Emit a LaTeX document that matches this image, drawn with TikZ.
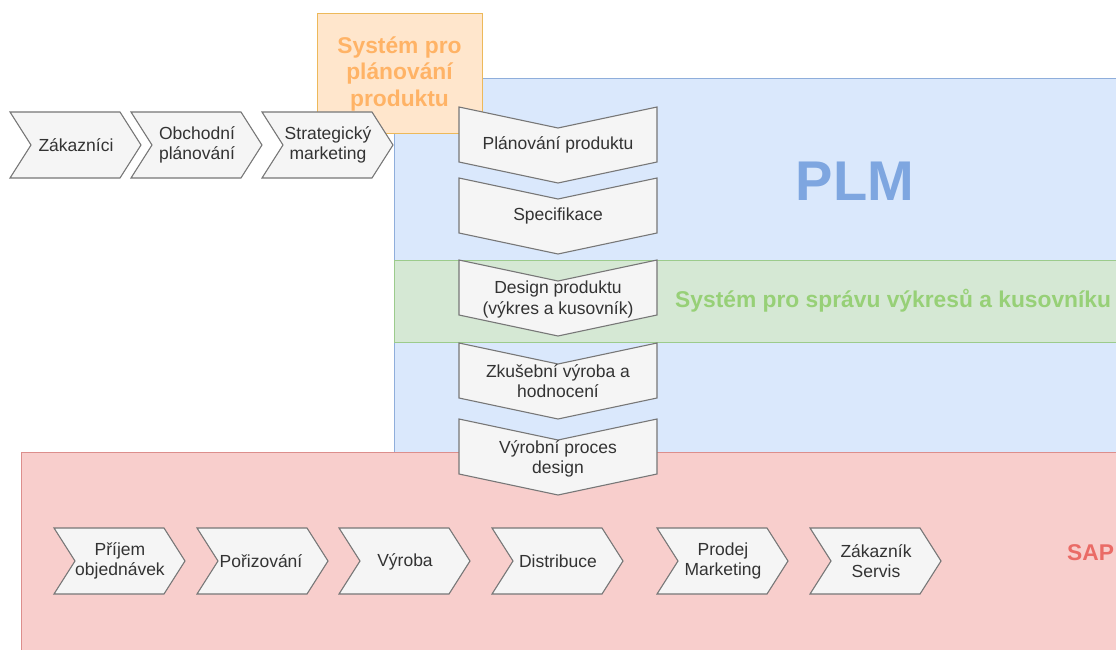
\documentclass[tikz,border=0pt]{standalone}
\usepackage{fontspec}
\setmainfont{Liberation Sans}
\usepackage{xcolor}
\definecolor{chevfill}{HTML}{F5F5F5}
\definecolor{chevline}{HTML}{777777}
\definecolor{chevtext}{HTML}{333333}
\definecolor{plmfill}{HTML}{DAE8FC}
\definecolor{plmline}{HTML}{8FAEDB}
\definecolor{plmtext}{HTML}{7EA6E0}
\definecolor{pdmfill}{HTML}{D5E8D4}
\definecolor{pdmline}{HTML}{9CCB8C}
\definecolor{pdmtext}{HTML}{97D077}
\definecolor{planfill}{HTML}{FFE6CC}
\definecolor{planline}{HTML}{EDB95A}
\definecolor{plantext}{HTML}{FFB366}
\definecolor{sapfill}{HTML}{F8CECC}
\definecolor{sapline}{HTML}{DC8E8C}
\definecolor{saptext}{HTML}{EA6B66}

\begin{document}
\begin{tikzpicture}[x=1pt, y=-1pt,
    chev/.style={draw=chevline, fill=chevfill, line width=1.1pt, line join=miter},
    lbl/.style={text=chevtext, font=\fontsize{17.5}{20.5}\selectfont, align=center, inner sep=0pt},
    title/.style={font=\bfseries\fontsize{22.8}{26.5}\selectfont, align=center, inner sep=0pt}]
        % Page
        \path[use as bounding box, clip] (0,0) rectangle (1116,650);

        % PLM area
        \draw[fill=plmfill, draw=plmline, line width=0.9pt] (394,78) rectangle (1140,470);
        \node[font=\bfseries\fontsize{56}{60}\selectfont, text=plmtext, inner sep=0pt] (plm) at (855,181) {PLM};

        % Drawings and BOM band
        \draw[fill=pdmfill, draw=pdmline, line width=0.9pt] (394,260) rectangle (1140,342);
        \node[title, text=pdmtext, anchor=base west] (pdm) at (675,307) {Systém pro správu výkresů a kusovníku};

        % Product planning system
        \draw[fill=planfill, draw=planline, line width=0.9pt] (317,13) rectangle (482,133);
        \node[title, text=plantext] (plan) at (399.5,74) {Systém pro\\plánování\\produktu};

        % SAP area
        \draw[fill=sapfill, draw=sapline, line width=0.9pt] (21,452) rectangle (1140,680);
        \node[title, text=saptext, anchor=west] (sap) at (1067,552.5) {SAP};

        % Top row
        \draw[chev] (10,112) -- ++(110,0) -- ++(21,33) -- ++(-21,33) -- ++(-110,0) -- ++(21,-33) -- cycle;
        \node[lbl] (zakaznici) at (76,145) {Zákazníci};
        \draw[chev] (131,112) -- ++(110,0) -- ++(21,33) -- ++(-21,33) -- ++(-110,0) -- ++(21,-33) -- cycle;
        \node[lbl] (obchod) at (197,145) {Obchodní\\plánování};
        \draw[chev] (262,112) -- ++(110,0) -- ++(21,33) -- ++(-21,33) -- ++(-110,0) -- ++(21,-33) -- cycle;
        \node[lbl] (strategie) at (328,145) {Strategický\\marketing};

        % Product column
        \draw[chev] (459,107) -- ++(99,21) -- ++(99,-21) -- ++(0,55) -- ++(-99,21) -- ++(-99,-21) -- cycle;
        \node[lbl] (planovani) at (558,145) {Plánování produktu};
        \draw[chev] (459,178) -- ++(99,21) -- ++(99,-21) -- ++(0,55) -- ++(-99,21) -- ++(-99,-21) -- cycle;
        \node[lbl] (specifikace) at (558,216) {Specifikace};
        \draw[chev] (459,260) -- ++(99,21) -- ++(99,-21) -- ++(0,55) -- ++(-99,21) -- ++(-99,-21) -- cycle;
        \node[lbl] (design) at (558,299.5) {Design produktu\\(výkres a kusovník)};
        \draw[chev] (459,343) -- ++(99,21) -- ++(99,-21) -- ++(0,55) -- ++(-99,21) -- ++(-99,-21) -- cycle;
        \node[lbl] (zkouska) at (558,381) {Zkušební výroba a\\hodnocení};
        \draw[chev] (459,419) -- ++(99,21) -- ++(99,-21) -- ++(0,55) -- ++(-99,21) -- ++(-99,-21) -- cycle;
        \node[lbl] (proces) at (558,459) {Výrobní proces\\design};

        % Bottom row
        \draw[chev] (54,528) -- ++(110,0) -- ++(21,33) -- ++(-21,33) -- ++(-110,0) -- ++(21,-33) -- cycle;
        \node[lbl] (prijem) at (120,561) {Příjem\\objednávek};
        \draw[chev] (197,528) -- ++(110,0) -- ++(21,33) -- ++(-21,33) -- ++(-110,0) -- ++(21,-33) -- cycle;
        \node[lbl] (porizovani) at (261,561) {Pořizování};
        \draw[chev] (339,528) -- ++(110,0) -- ++(21,33) -- ++(-21,33) -- ++(-110,0) -- ++(21,-33) -- cycle;
        \node[lbl] (vyroba) at (405,562) {Výroba};
        \draw[chev] (492,528) -- ++(110,0) -- ++(21,33) -- ++(-21,33) -- ++(-110,0) -- ++(21,-33) -- cycle;
        \node[lbl] (distribuce) at (558,561) {Distribuce};
        \draw[chev] (657,528) -- ++(110,0) -- ++(21,33) -- ++(-21,33) -- ++(-110,0) -- ++(21,-33) -- cycle;
        \node[lbl] (prodej) at (723,561) {Prodej\\Marketing};
        \draw[chev] (810,528) -- ++(110,0) -- ++(21,33) -- ++(-21,33) -- ++(-110,0) -- ++(21,-33) -- cycle;
        \node[lbl] (servis) at (876,561) {Zákazník\\Servis};
    \end{tikzpicture}
\end{document}
